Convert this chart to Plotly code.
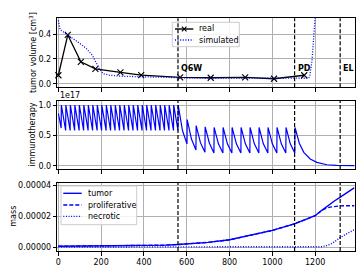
import plotly.graph_objects as go

# ---------------- data ----------------
# top panel: tumor volume [cm^3]
real_days = [0, 44, 105, 173, 290, 387, 569, 712, 873, 1008, 1149]
real_vol = [0.068, 0.393, 0.176, 0.120, 0.092, 0.069, 0.051, 0.048, 0.051, 0.040, 0.068]

sim_days = [0, 3, 8, 30, 60, 100, 130, 160, 175, 190, 210, 240, 300, 400, 500, 600,
            800, 1000, 1100, 1169, 1175, 1180, 1185, 1189, 1195, 1200, 1205]
sim_vol = [0.51, 0.46, 0.435, 0.41, 0.375, 0.325, 0.285, 0.225, 0.175, 0.125, 0.08, 0.068,
           0.06, 0.055, 0.05, 0.047, 0.045, 0.043, 0.043, 0.044, 0.06, 0.11, 0.18, 0.27,
           0.43, 0.54, 0.66]

# middle panel: immunotherapy (units of 1e17)
imm_scale = 1e17
imm_start_day, imm_start_val = 0, 0.86
pre_dose_days = [13, 34, 55, 76, 97, 118, 139, 160, 181, 202, 223, 244, 265, 286,
                 307, 328, 349, 370, 391, 412, 433, 454, 475, 496, 517, 538, 559]
pre_first_trough = 0.62
pre_trough = 0.58
pre_peak = 1.0
switch_mid_day, switch_mid_val = 580, 0.58
post_dose_days = [601, 643, 685, 727, 769, 811, 853, 895, 937, 979, 1021, 1063, 1105]
post_trough = [0.36, 0.26, 0.22, 0.21, 0.21, 0.21, 0.21, 0.21, 0.21, 0.21, 0.21, 0.21, 0.21]
post_peak = [0.76, 0.66, 0.64, 0.63, 0.63, 0.63, 0.63, 0.63, 0.63, 0.63, 0.63, 0.63, 0.63]
post_mid = [0.44, 0.38, 0.37, 0.36, 0.36, 0.36, 0.36, 0.36, 0.36, 0.36, 0.36, 0.36]
tail_days = [1126, 1147, 1177, 1208, 1255, 1300, 1384]
tail_vals = [0.37, 0.22, 0.11, 0.055, 0.016, 0.005, 0.001]

# bottom panel: mass
mass_days = [0, 100, 200, 300, 400, 500, 559, 650, 700, 800, 900, 1000, 1103, 1150,
             1200, 1231, 1250, 1270, 1290, 1316, 1350, 1384]
tumor_mass = [0.05, 0.055, 0.06, 0.07, 0.09, 0.12, 0.16, 0.24, 0.30, 0.47, 0.76, 1.08,
              1.51, 1.75, 2.04, 2.39, 2.60, 2.80, 3.00, 3.23, 3.55, 3.87]
prolif_mass = [0.05, 0.055, 0.06, 0.07, 0.09, 0.12, 0.16, 0.24, 0.30, 0.47, 0.76, 1.08,
               1.51, 1.75, 2.04, 2.38, 2.52, 2.60, 2.65, 2.68, 2.69, 2.69]
necrotic_mass = [0, 0, 0, 0, 0, 0, 0, 0, 0, 0, 0, 0, 0, 0, 0, 0.02, 0.07, 0.17, 0.33,
                 0.60, 0.88, 1.14]
mass_scale = 1e-5

event_days = [559, 1104, 1317]
event_labels = ["Q6W", "PD", "EL"]

x_ticks = [0, 200, 400, 600, 800, 1000, 1200]
vol_ticks = [0.0, 0.2, 0.4]
imm_ticks = [0.0, 0.5, 1.0]
imm_ticktext = ["0.0", "0.5", "1.0"]
mass_ticks = [0.0, 0.00002, 0.00004]
mass_ticktext = ["0.00000", "0.00002", "0.00004"]

top_legend_labels = ["real", "simulated"]
bottom_legend_labels = ["tumor", "proliferative", "necrotic"]

# ---------------- build immunotherapy polyline ----------------
imm_t = [imm_start_day]
imm_v = [imm_start_val]
for i, d in enumerate(pre_dose_days):
    imm_t += [d, d + 1]
    imm_v += [pre_first_trough if i == 0 else pre_trough, pre_peak]
imm_t.append(switch_mid_day)
imm_v.append(switch_mid_val)
for i, d in enumerate(post_dose_days):
    imm_t += [d, d + 1]
    imm_v += [post_trough[i], post_peak[i]]
    if i < len(post_mid):
        imm_t.append(d + 21)
        imm_v.append(post_mid[i])
imm_t += tail_days
imm_v += tail_vals
imm_v = [v * imm_scale for v in imm_v]

W, H = 363, 273
FONT = "DejaVu Sans"
BLUE = "#0000ff"
DOT = "1px,1.6px"
DASH = "4px,2px"

def px(x):
    return x / W

def py(y):
    return 1 - y / H

fig = go.Figure()

fig.add_trace(go.Scatter(x=real_days, y=real_vol, mode="lines+markers", name="real",
                         line=dict(color="black", width=1.3),
                         marker=dict(symbol="x-thin", size=6, line=dict(color="black", width=1.1)),
                         xaxis="x", yaxis="y", showlegend=False, cliponaxis=False))
fig.add_trace(go.Scatter(x=sim_days, y=sim_vol, mode="lines", name="simulated",
                         line=dict(color=BLUE, width=1.3, dash=DOT),
                         xaxis="x", yaxis="y", showlegend=False))

fig.add_trace(go.Scatter(x=imm_t, y=imm_v, mode="lines", showlegend=False,
                         line=dict(color=BLUE, width=1.2), xaxis="x2", yaxis="y2"))

fig.add_trace(go.Scatter(x=mass_days, y=[v * mass_scale for v in tumor_mass], mode="lines",
                         name="tumor", line=dict(color=BLUE, width=1.4),
                         xaxis="x3", yaxis="y3", showlegend=False))
fig.add_trace(go.Scatter(x=mass_days, y=[v * mass_scale for v in prolif_mass], mode="lines",
                         name="proliferative", line=dict(color=BLUE, width=1.4, dash=DASH),
                         xaxis="x3", yaxis="y3", showlegend=False))
fig.add_trace(go.Scatter(x=mass_days, y=[v * mass_scale for v in necrotic_mass], mode="lines",
                         name="necrotic", line=dict(color=BLUE, width=1.4, dash=DOT),
                         xaxis="x3", yaxis="y3", showlegend=False))

xdom = [px(57.3), px(354.5)]
def ydom(top, bottom):
    return [py(bottom), py(top)]

common_axis = dict(showline=True, mirror=True, linecolor="black", linewidth=1,
                   ticks="outside", ticklen=3.5, tickwidth=0.8, tickcolor="black",
                   showgrid=True, gridcolor="#b0b0b0", gridwidth=0.8, zeroline=False,
                   automargin=False, tickfont=dict(family=FONT, size=8, color="black"))
xr = [-5, 1384]

fig.update_layout(
    width=W, height=H, margin=dict(l=0, r=0, t=0, b=0),
    paper_bgcolor="white", plot_bgcolor="white",
    font=dict(family=FONT, size=8, color="black"),
    showlegend=False,
    xaxis=dict(domain=xdom, range=xr, tickvals=x_ticks, showticklabels=False, anchor="y", **common_axis),
    xaxis2=dict(domain=xdom, range=xr, tickvals=x_ticks, showticklabels=False, anchor="y2", **common_axis),
    xaxis3=dict(domain=xdom, range=xr, tickvals=x_ticks, anchor="y3", **common_axis),
    yaxis=dict(domain=ydom(18.3, 87.3), range=[-0.029, 0.527], tickvals=vol_ticks,
               ticktext=["0.0", "0.2", "0.4"], anchor="x", **common_axis),
    yaxis2=dict(domain=ydom(100.7, 169), range=[-0.054 * imm_scale, 1.071 * imm_scale],
                tickvals=[v * imm_scale for v in imm_ticks], ticktext=imm_ticktext, anchor="x2", **common_axis),
    yaxis3=dict(domain=ydom(182.7, 251), range=[-0.26e-5, 4.19e-5], tickvals=mass_ticks,
                ticktext=mass_ticktext, anchor="x3", **common_axis),
)

shapes = []
annotations = []

# manual legends (compact, matplotlib-like)
def legend_box(x0, y0, x1, y1):
    shapes.append(dict(type="rect", xref="paper", yref="paper",
                       x0=px(x0), x1=px(x1), y0=py(y1), y1=py(y0),
                       fillcolor="rgba(255,255,255,0.85)", line=dict(color="#cccccc", width=1)))

def legend_line(x0, x1, y, color, dash):
    shapes.append(dict(type="line", xref="paper", yref="paper",
                       x0=px(x0), x1=px(x1), y0=py(y), y1=py(y),
                       line=dict(color=color, width=1.4, dash=dash)))

def legend_text(x, y, text):
    annotations.append(dict(x=px(x), y=py(y), xref="paper", yref="paper", text=text,
                            showarrow=False, xanchor="left", yanchor="middle",
                            font=dict(family=FONT, size=8, color="black")))

legend_box(172.3, 22.3, 239.3, 46.7)
legend_line(175, 193.3, 29, "black", "solid")
cx, cy, r = 184.2, 29, 2.3
shapes.append(dict(type="line", xref="paper", yref="paper", x0=px(cx - r), x1=px(cx + r),
                   y0=py(cy - r), y1=py(cy + r), line=dict(color="black", width=1.1)))
shapes.append(dict(type="line", xref="paper", yref="paper", x0=px(cx - r), x1=px(cx + r),
                   y0=py(cy + r), y1=py(cy - r), line=dict(color="black", width=1.1)))
legend_text(197, 29, top_legend_labels[0])
legend_line(175, 193.3, 40, BLUE, DOT)
legend_text(197, 40, top_legend_labels[1])

legend_box(61, 186, 136.7, 224.7)
for yy, lab, dsh in zip([193.3, 205, 216.4], bottom_legend_labels, ["solid", DASH, DOT]):
    legend_line(63.3, 81.7, yy, BLUE, dsh)
    legend_text(86, yy, lab)

# event lines in every panel
for yref in ["y", "y2", "y3"]:
    for d in event_days:
        shapes.append(dict(type="line", xref=yref.replace("y", "x"), yref=yref + " domain",
                           x0=d, x1=d, y0=0, y1=1,
                           line=dict(color="black", width=1.2, dash=DASH)))

for d, lab in zip(event_days, event_labels):
    annotations.append(dict(x=d, y=0.124, xref="x", yref="y", text="<b>" + lab + "</b>",
                            showarrow=False, xanchor="left", yanchor="middle", xshift=1,
                            font=dict(family=FONT, size=8, color="black")))
annotations += [
    dict(x=px(32.3), y=py(52.8), xref="paper", yref="paper", text="tumor volume [cm<sup>3</sup>]",
         textangle=-90, showarrow=False, xanchor="center", yanchor="middle",
         font=dict(family=FONT, size=8)),
    dict(x=px(32.7), y=py(134.8), xref="paper", yref="paper", text="immunotherapy",
         textangle=-90, showarrow=False, xanchor="center", yanchor="middle",
         font=dict(family=FONT, size=8)),
    dict(x=px(12.7), y=py(216), xref="paper", yref="paper", text="mass",
         textangle=-90, showarrow=False, xanchor="center", yanchor="middle",
         font=dict(family=FONT, size=8)),
    dict(x=px(57.5), y=py(95), xref="paper", yref="paper", text="1e17",
         showarrow=False, xanchor="left", yanchor="middle", font=dict(family=FONT, size=8)),
]
fig.update_layout(shapes=shapes, annotations=annotations)

fig.write_html("out.html", config={"displayModeBar": False},
               post_script="document.body.style.margin='0px';")
